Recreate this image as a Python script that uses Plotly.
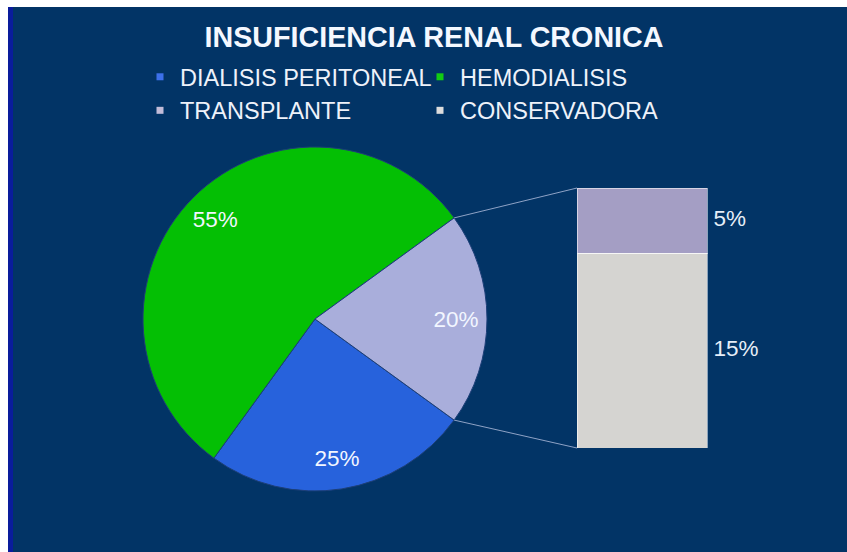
import plotly.graph_objects as go
import numpy as np

# data
pie_labels = ["DIALISIS PERITONEAL", "HEMODIALISIS", "OTROS"]
bar_labels = ["TRANSPLANTE", "CONSERVADORA"]
bar_values = [5, 15]
pie_values = [25, 55, sum(bar_values)]
legend_labels = ["DIALISIS PERITONEAL", "HEMODIALISIS", "TRANSPLANTE", "CONSERVADORA"]

pie_colors = ["#2762dc", "#04bf04", "#a9aedb"]
bar_colors = {"TRANSPLANTE": "#a49ec4", "CONSERVADORA": "#d5d4d1"}
legend_colors = ["#3d70ea", "#12cc12", "#c2bcd8", "#dcdcdc"]

bg = "#023466"
font_family = "Liberation Sans, Arial, sans-serif"

# page geometry (pixels -> paper coords)
W, H, M = 847, 552, 20
GW, GH = W - 2 * M, H - 2 * M


def sx(p):
    return (p - M) / GW


def sy(p):
    return 1 - (p - M) / GH


rotation = 126
pie_dom_x = [sx(143), sx(487)]
pie_dom_y = [sy(491), sy(147)]
bar_dom_x = [sx(577), sx(772)]
bar_dom_y = [sy(448), sy(188)]

fig = go.Figure()

# the pie (colours only)
fig.add_trace(go.Pie(
    labels=pie_labels,
    values=pie_values,
    sort=False,
    direction="clockwise",
    rotation=rotation,
    marker=dict(colors=pie_colors, line=dict(color="#1d3f78", width=1)),
    textinfo="none",
    domain=dict(x=pie_dom_x, y=pie_dom_y),
    showlegend=False,
    hoverinfo="label+percent",
))

# transparent ring on top, only to put the % labels near the rim
fig.add_trace(go.Pie(
    labels=pie_labels,
    values=pie_values,
    sort=False,
    direction="clockwise",
    rotation=rotation,
    hole=0.64,
    marker=dict(colors=["rgba(0,0,0,0)"] * 3, line=dict(width=0)),
    textinfo="percent",
    texttemplate="%{percent:.0%}",
    textposition="inside",
    insidetextfont=dict(color="#f2f6ff", size=22.5, family=font_family),
    domain=dict(x=pie_dom_x, y=pie_dom_y),
    showlegend=False,
    hoverinfo="skip",
))

# stacked bar: CONSERVADORA at the bottom, TRANSPLANTE on top
for name in ["CONSERVADORA", "TRANSPLANTE"]:
    fig.add_trace(go.Bar(
        x=[0],
        y=[bar_values[bar_labels.index(name)]],
        width=1,
        name=name,
        marker=dict(color=bar_colors[name], line=dict(color="rgba(255,255,255,0.55)", width=1)),
        showlegend=False,
        hovertemplate=name + ": %{y}%<extra></extra>",
    ))

# labels to the right of each bar segment
cum = np.cumsum([bar_values[1], bar_values[0]])
mids = [cum[0] - bar_values[1] / 2, cum[1] - bar_values[0] / 2]
fig.add_trace(go.Scatter(
    x=[0.55, 0.55],
    y=mids,
    mode="text",
    text=[f"{bar_values[1]}%", f"{bar_values[0]}%"],
    textposition="middle right",
    textfont=dict(color="#e6eef8", size=22.5, family=font_family),
    showlegend=False,
    hoverinfo="skip",
))

# legend entries
for i, (lab, col) in enumerate(zip(legend_labels, legend_colors)):
    fig.add_trace(go.Scatter(
        x=[None], y=[None],
        mode="markers",
        marker=dict(symbol="square", size=7, color=col),
        name=lab,
        legendrank=i + 1,
    ))

# connector lines from the 20% slice to the bar
a0 = np.radians(rotation + 360 * (pie_values[0] + pie_values[1]) / sum(pie_values))
a1 = np.radians(rotation + 360)
cx, cy = (143 + 487) / 2, (147 + 491) / 2
r = (487 - 143) / 2
shapes = [
    # navy slide background, with a thin white edge top/left like the source image
    dict(type="rect", xref="paper", yref="paper",
         x0=sx(8), x1=sx(W + 5), y0=sy(H + 5), y1=sy(7),
         fillcolor=bg, line=dict(width=0), layer="below"),
    dict(type="rect", xref="paper", yref="paper",
         x0=sx(8), x1=sx(13), y0=sy(H + 5), y1=sy(7),
         fillcolor="#0a1c9c", line=dict(width=0), layer="below"),
]
for a, yb in [(a0, bar_dom_y[1]), (a1, bar_dom_y[0])]:
    shapes.append(dict(
        type="line", xref="paper", yref="paper",
        x0=sx(cx + r * np.sin(a)), y0=sy(cy - r * np.cos(a)),
        x1=bar_dom_x[0], y1=yb,
        line=dict(color="#8fa3c6", width=1),
    ))

fig.update_layout(
    width=W, height=H,
    margin=dict(l=M, r=M, t=M, b=M),
    paper_bgcolor="white",
    plot_bgcolor="rgba(0,0,0,0)",
    font=dict(family=font_family, color="white"),
    title=dict(
        text="<b>INSUFICIENCIA RENAL CRONICA</b>",
        x=sx(434), xanchor="center", xref="paper",
        y=1 - 37 / H, yanchor="middle", yref="container",
        font=dict(size=28.7, color="#f4f8ff", family=font_family),
    ),
    barmode="stack",
    xaxis=dict(domain=bar_dom_x, range=[-0.5, 1.0], visible=False, fixedrange=True),
    yaxis=dict(domain=bar_dom_y, range=[0, 20], visible=False, fixedrange=True),
    legend=dict(
        orientation="h",
        x=sx(140), xanchor="left",
        y=sy(55), yanchor="top",
        entrywidth=235,
        font=dict(size=23.5, color="#eef2fa", family=font_family),
        bgcolor="rgba(0,0,0,0)",
        traceorder="normal",
    ),
    shapes=shapes,
)

# drop the default page margin so the figure fills the window exactly
fig.write_html(
    "out.html",
    config={"displayModeBar": False},
    post_script="document.body.style.margin = '0'; document.body.style.overflow = 'hidden';",
)
